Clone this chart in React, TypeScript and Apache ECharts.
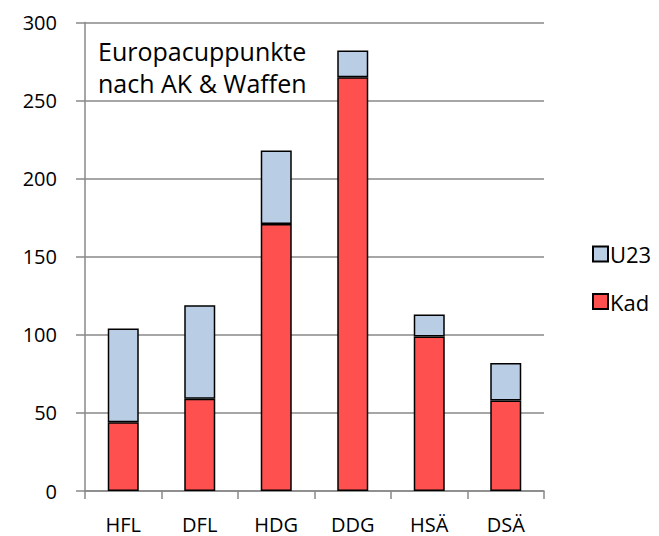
import React, { useEffect, useRef } from "react";
import * as echarts from "echarts";

const categories = ["HFL", "DFL", "HDG", "DDG", "HSÄ", "DSÄ"];
const kadValues = [44, 59, 171, 265, 99, 58];
const u23Values = [60, 60, 47, 17, 14, 24];
const yTicks = [0, 50, 100, 150, 200, 250, 300];
const titleLines = ["Europacuppunkte", "nach AK & Waffen"];

const FONT = "'Open Sans', sans-serif";

export default function App() {
  const ref = useRef<HTMLDivElement>(null);
  useEffect(() => {
    if (!ref.current) return;
    const chart = echarts.init(ref.current, null, { renderer: "svg" });
    chart.setOption({
      animation: false,
      backgroundColor: "#ffffff",
      textStyle: { fontFamily: FONT },
      title: {
        text: titleLines.join("\n"),
        left: 93,
        top: 30,
        textStyle: {
          fontFamily: FONT,
          fontSize: 25,
          fontWeight: "normal",
          color: "#000",
          lineHeight: 32,
        },
      },
      legend: {
        data: ["U23", "Kad"],
        orient: "vertical",
        left: 587,
        top: 237.5,
        itemWidth: 15,
        itemHeight: 15,
        itemGap: 24.5,
        icon: "rect",
        textStyle: {
          fontFamily: FONT,
          fontSize: 22,
          lineHeight: 23,
          color: "#000",
          padding: [0, 0, 0, -3],
        },
      },
      grid: { left: 85, right: 115, top: 22.5, bottom: 45, containLabel: false },
      xAxis: {
        type: "category",
        data: categories,
        axisLine: { show: true, lineStyle: { color: "#888", width: 1.5 } },
        axisTick: { show: true, length: 8, lineStyle: { color: "#888", width: 1.5 } },
        axisLabel: { color: "#000", fontSize: 20, fontFamily: FONT, margin: 23 },
      },
      yAxis: {
        type: "value",
        min: yTicks[0],
        max: yTicks[yTicks.length - 1],
        interval: 50,
        axisLine: { show: true, lineStyle: { color: "#888", width: 1.5 } },
        axisTick: { show: true, length: 9, lineStyle: { color: "#888", width: 1.5 } },
        axisLabel: { color: "#000", fontSize: 20, fontFamily: FONT, margin: 28 },
        splitLine: { show: true, lineStyle: { color: "#888", width: 1.5 } },
      },
      series: [
        {
          name: "Kad",
          type: "bar",
          stack: "total",
          data: kadValues,
          barWidth: 31,
          itemStyle: { color: "#ff5050", borderColor: "#000", borderWidth: 1.5 },
        },
        {
          name: "U23",
          type: "bar",
          stack: "total",
          data: u23Values,
          barWidth: 31,
          itemStyle: { color: "#b9cde5", borderColor: "#000", borderWidth: 1.5 },
        },
      ],
    });
    return () => chart.dispose();
  }, []);
  return (
    <div
      ref={ref}
      style={{ position: "fixed", left: 0, top: 0, width: 659, height: 536 }}
    />
  );
}
